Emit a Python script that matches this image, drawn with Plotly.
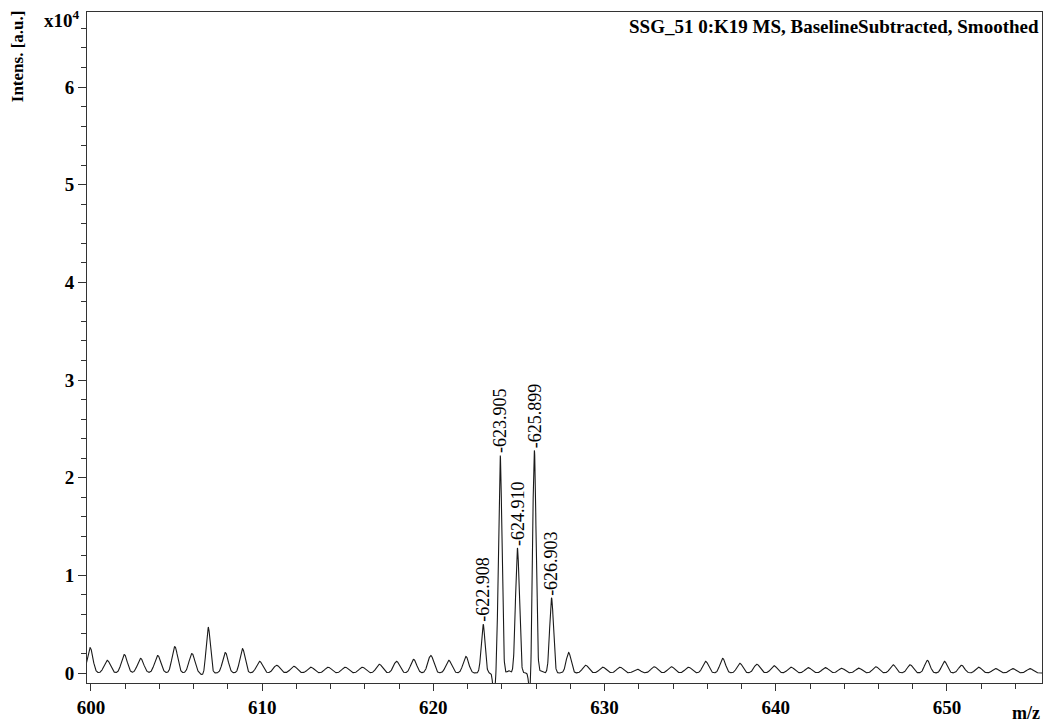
import numpy as np
import plotly.graph_objects as go

# Peak list (m/z, intensity in a.u., gaussian sigma in m/z)
peak_mz = [599.95, 600.95, 601.95, 602.9, 603.9, 604.9, 605.9, 606.85, 607.85, 608.85,
           609.85, 610.85, 611.85, 612.85, 613.85, 614.85, 615.85, 616.85, 617.85, 618.85,
           619.85, 620.9, 621.9, 622.908, 623.905, 624.910, 625.899, 626.903, 627.9, 628.9,
           629.9, 630.9, 631.9, 632.9, 633.9, 634.9, 635.9, 636.9, 637.9, 638.9,
           639.9, 640.9, 641.9, 642.9, 643.85, 644.85, 645.85, 646.85, 647.85, 648.85,
           649.85, 650.85, 651.85, 652.85, 653.85, 654.85,
           623.55, 625.65, 606.55, 624.4, 626.3]
peak_int = [2600, 1300, 1900, 1500, 1800, 2700, 2000, 4700, 2100, 2500,
            1200, 800, 700, 600, 600, 600, 600, 900, 1200, 1400,
            1800, 1300, 1700, 5000, 22300, 12800, 22800, 7700, 2100, 800,
            600, 600, 400, 650, 650, 600, 1200, 1500, 1000, 900,
            750, 600, 550, 550, 480, 500, 650, 850, 850, 1300,
            1200, 800, 600, 450, 450, 450,
            -2600, -2600, -250, 250, 250]
peak_sigma = [0.16, 0.18, 0.17, 0.18, 0.18, 0.16, 0.17, 0.12, 0.16, 0.15,
              0.18, 0.19, 0.19, 0.19, 0.19, 0.19, 0.19, 0.18, 0.18, 0.17,
              0.17, 0.17, 0.16, 0.11, 0.1, 0.11, 0.1, 0.11, 0.14, 0.18,
              0.19, 0.19, 0.19, 0.19, 0.19, 0.19, 0.17, 0.16, 0.17, 0.18,
              0.18, 0.19, 0.19, 0.19, 0.19, 0.19, 0.18, 0.17, 0.17, 0.16,
              0.16, 0.17, 0.18, 0.19, 0.19, 0.19,
              0.07, 0.07, 0.12, 0.08, 0.08]

label_mz = [622.908, 623.905, 624.910, 625.899, 626.903]
label_int = [5000, 22300, 12800, 22800, 7700]

x_ticks = [600, 610, 620, 630, 640, 650]
y_ticks = [0, 10000, 20000, 30000, 40000, 50000, 60000]
y_ticktext = ["0", "1", "2", "3", "4", "5", "6"]

mz = np.arange(599.6, 655.7, 0.01)
inten = np.zeros_like(mz)
for c, h, s in zip(peak_mz, peak_int, peak_sigma):
    inten += h * np.exp(-0.5 * ((mz - c) / s) ** 2)

SERIF = "Liberation Serif, Times New Roman, serif"

fig = go.Figure()
fig.add_trace(go.Scatter(x=mz, y=inten, mode="lines",
                         line=dict(color="#1a1a1a", width=1.1),
                         hoverinfo="skip", showlegend=False))

for m, h in zip(label_mz, label_int):
    fig.add_annotation(x=m, y=h, text="-" + f"{m:.3f}", textangle=-90,
                       showarrow=False, xanchor="center", yanchor="bottom",
                       font=dict(family=SERIF, size=18, color="black"))

fig.add_annotation(xref="paper", yref="paper", x=1, y=1, xanchor="right", yanchor="top",
                   xshift=-1, yshift=-2, showarrow=False,
                   text="<b>SSG_51 0:K19 MS, BaselineSubtracted, Smoothed</b>",
                   font=dict(family=SERIF, size=19, color="black"))
fig.add_annotation(xref="paper", yref="paper", x=-0.072, y=1.006, xanchor="center", yanchor="top",
                   textangle=-90, showarrow=False, text="<b>Intens. [a.u.]</b>",
                   font=dict(family=SERIF, size=17, color="black"))
fig.add_annotation(xref="paper", yref="paper", x=-0.005, y=1.01, xanchor="right", yanchor="top",
                   showarrow=False, text="<b>x10<sup>4</sup></b>",
                   font=dict(family=SERIF, size=19, color="black"))
fig.add_annotation(xref="paper", yref="paper", x=1, y=0, xanchor="right", yanchor="middle",
                   xshift=0, yshift=-30, showarrow=False, text="<b>m/z</b>",
                   font=dict(family=SERIF, size=18, color="black"))

fig.update_layout(
    width=1046, height=722,
    margin=dict(l=87, r=4, t=12, b=39),
    paper_bgcolor="white", plot_bgcolor="white",
    font=dict(family=SERIF, size=19, color="black"),
    showlegend=False,
)
fig.update_xaxes(range=[599.77, 655.55], tickvals=x_ticks,
                 ticktext=[f"<b>{v}</b>" for v in x_ticks],
                 ticks="outside", ticklen=7, tickwidth=1, tickcolor="#333",
                 minor=dict(dtick=2, ticks="outside", ticklen=5, tickcolor="#333", showgrid=False),
                 showline=True, linecolor="#333", linewidth=1, mirror=True,
                 showgrid=False, zeroline=False,
                 tickfont=dict(family=SERIF, size=19, color="black"))
fig.update_yaxes(range=[-1020, 67680], tickvals=y_ticks,
                 ticktext=[f"<b>{t}</b>" for t in y_ticktext],
                 ticks="outside", ticklen=8, tickwidth=1, tickcolor="#333",
                 minor=dict(dtick=2000, ticks="outside", ticklen=5, tickcolor="#333", showgrid=False),
                 showline=True, linecolor="#333", linewidth=1, mirror=True,
                 showgrid=False, zeroline=False,
                 tickfont=dict(family=SERIF, size=19, color="black"))

fig.write_html("out.html", config={"displayModeBar": False},
               post_script="document.body.style.margin='0';document.body.style.padding='0';"
                           "document.body.style.overflow='hidden';")
